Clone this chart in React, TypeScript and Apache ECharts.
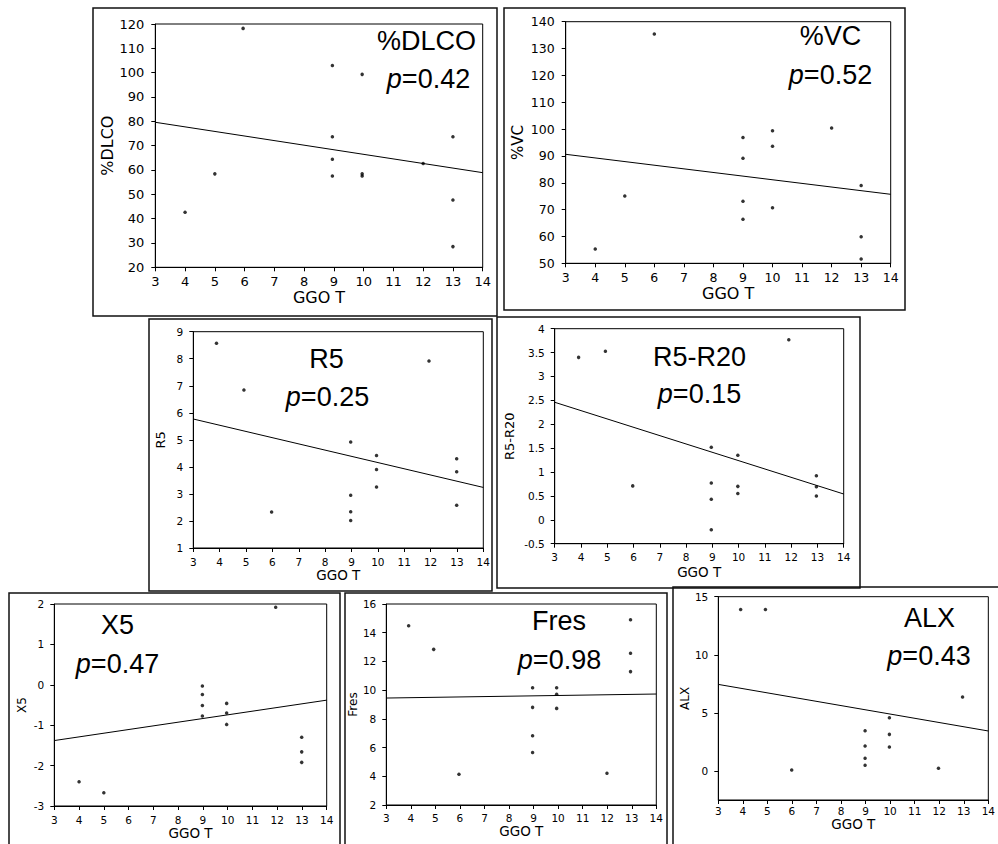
import React, { useEffect, useRef } from "react";
import * as echarts from "echarts";

// ---- data ----
const xName = "GGO T";

const dlcoX = [4, 5, 5.95, 8.95, 8.95, 8.95, 8.95, 9.95, 9.95, 9.95, 12, 13, 13, 13];
const dlcoY = [42.6, 58.4, 118.2, 102.9, 73.7, 64.4, 57.5, 99.3, 58.4, 57.5, 62.7, 73.7, 47.7, 28.5];
const dlcoFit = [79.6, 58.9];

const vcX = [4, 5, 6, 9, 9, 9, 9, 10, 10, 10, 12, 13, 13, 13];
const vcY = [55.3, 75.1, 135.4, 96.9, 89.1, 73.1, 66.4, 99.4, 93.6, 70.7, 100.4, 79.0, 59.9, 51.6];
const vcFit = [90.6, 75.7];

const r5X = [3.88, 4.92, 5.97, 8.97, 8.97, 8.97, 8.97, 9.95, 9.95, 9.95, 11.94, 12.99, 12.99, 12.99];
const r5Y = [8.57, 6.84, 2.33, 4.92, 2.95, 2.34, 2.02, 4.42, 3.9, 3.26, 7.92, 4.3, 3.82, 2.58];
const r5Fit = [5.77, 3.24];

const r520X = [3.91, 4.93, 5.97, 8.96, 8.96, 8.96, 8.96, 9.97, 9.97, 9.97, 11.91, 12.96, 12.96, 12.96];
const r520Y = [3.4, 3.53, 0.71, 1.52, 0.77, 0.43, -0.21, 1.35, 0.7, 0.55, 3.77, 0.92, 0.69, 0.5];
const r520Fit = [2.46, 0.54];

const x5X = [4, 5, 8.98, 8.98, 8.98, 8.98, 9.96, 9.96, 9.96, 11.94, 12.99, 12.99, 12.99];
const x5Y = [-2.4, -2.67, -0.03, -0.24, -0.51, -0.77, -0.46, -0.7, -0.98, 1.92, -1.3, -1.66, -1.92];
const x5Fit = [-1.38, -0.38];

const fresX = [3.91, 4.93, 5.96, 8.96, 8.96, 8.96, 8.96, 9.94, 9.94, 9.94, 11.99, 12.95, 12.95, 12.95];
const fresY = [14.49, 12.84, 4.14, 10.17, 8.8, 6.83, 5.65, 10.17, 9.71, 8.73, 4.21, 14.91, 12.57, 11.29];
const fresFit = [9.45, 9.73];

const alxX = [3.91, 4.92, 5.99, 8.98, 8.98, 8.98, 8.98, 9.97, 9.97, 9.97, 11.97, 12.95];
const alxY = [13.9, 13.9, 0.09, 3.47, 2.15, 1.09, 0.49, 4.58, 3.15, 2.06, 0.23, 6.36];
const alxFit = [7.45, 3.44];

const alxTicks = [0, 5, 10, 15];

const titles = ["%DLCO", "%VC", "R5", "R5-R20", "X5", "Fres", "ALX"];
const yNames = ["%DLCO", "%VC", "R5", "R5-R20", "X5", "Fres", "ALX"];
const pValues = ["0.42", "0.52", "0.25", "0.15", "0.47", "0.98", "0.43"];

const xsAll = [dlcoX, vcX, r5X, r520X, x5X, fresX, alxX];
const ysAll = [dlcoY, vcY, r5Y, r520Y, x5Y, fresY, alxY];
const fitsAll = [dlcoFit, vcFit, r5Fit, r520Fit, x5Fit, fresFit, alxFit];

// y-axis ranges
const yRanges = [
  { min: 20, max: 120, interval: 10 },
  { min: 50, max: 140, interval: 10 },
  { min: 1, max: 9, interval: 1 },
  { min: -0.5, max: 4, interval: 0.5 },
  { min: -3, max: 2, interval: 1 },
  { min: 2, max: 16, interval: 2 },
  { min: -2.5, max: 15, custom: alxTicks },
];

// ---- layout (pixels) ----
const layouts = [
  { grid: [155.3, 24, 327.4, 243.3], box: [93, 8, 404, 308], tick: 13, xnf: 16, ynf: 16, xGap: 19, yGap: 38, xm: 8, ym: 11, title: [426.5, 41], p: [428.5, 78.5] },
  { grid: [565.7, 21.7, 325, 241.6], box: [504, 8, 401, 302], tick: 12.5, xnf: 16, ynf: 15, xGap: 22, yGap: 40, xm: 8, ym: 11, title: [830.5, 36], p: [830.5, 75] },
  { grid: [193.3, 331.7, 290, 216.3], box: [149, 319, 343, 272], tick: 10.5, xnf: 13.5, ynf: 13, xGap: 19, yGap: 26, xm: 8, ym: 10, title: [326.5, 359], p: [327.5, 396.5] },
  { grid: [554.7, 328.7, 289, 215], box: [497, 317, 363, 271], tick: 10.5, xnf: 13.5, ynf: 13, xGap: 21, yGap: 39, xm: 8, ym: 10, title: [699.5, 357], p: [699.5, 393.5] },
  { grid: [54.3, 604, 272.4, 202], box: [9, 593, 331, 260], tick: 10.5, xnf: 13.5, ynf: 12, xGap: 14, yGap: 26, xm: 8, ym: 10, title: [117.5, 625], p: [117.5, 663.5] },
  { grid: [386.3, 604, 270, 201], box: [345, 593, 322, 260], tick: 10.5, xnf: 13.5, ynf: 12, xGap: 16, yGap: 26, xm: 7, ym: 10, title: [559, 621], p: [559.5, 660] },
  { grid: [718.3, 596.7, 271, 203.3], box: [673, 587, 340, 270], tick: 10.5, xnf: 13.5, ynf: 12, xGap: 11, yGap: 24, xm: 5, ym: 10, title: [929.5, 617.5], p: [929, 655.5] },
];

const FONT = "'DejaVu Sans', sans-serif";
const TFONT = "'Liberation Sans', Arial, sans-serif";

export default function App() {
  const ref = useRef<HTMLDivElement>(null);

  useEffect(() => {
    if (!ref.current) return;
    const chart = echarts.init(ref.current, null, { renderer: "svg" });

    const grid = layouts.map((l) => ({
      left: l.grid[0],
      top: l.grid[1],
      width: l.grid[2],
      height: l.grid[3],
      show: true,
      borderColor: "#000",
      borderWidth: 1,
      backgroundColor: "transparent",
    }));

    const xAxis = layouts.map((l, i) => ({
      type: "value",
      gridIndex: i,
      min: 3,
      max: 14,
      interval: 1,
      name: xName,
      nameLocation: "middle",
      nameGap: l.xGap,
      nameTextStyle: { fontFamily: FONT, fontSize: l.xnf, color: "#000" },
      axisLine: { show: true, onZero: false, lineStyle: { color: "#000", width: 1 } },
      axisTick: { show: true, inside: false, length: 4, lineStyle: { color: "#000" } },
      axisLabel: { color: "#000", fontFamily: FONT, fontSize: l.tick, margin: l.xm, showMinLabel: true, showMaxLabel: true },
      splitLine: { show: false },
    }));

    const yAxis = layouts.map((l, i) => {
      const r: any = yRanges[i];
      const ax: any = {
        type: "value",
        gridIndex: i,
        min: r.min,
        max: r.max,
        name: yNames[i],
        nameLocation: "middle",
        nameGap: l.yGap,
        nameTextStyle: { fontFamily: FONT, fontSize: l.ynf, color: "#000" },
        axisLine: { show: true, onZero: false, lineStyle: { color: "#000", width: 1 } },
        axisTick: { show: true, inside: false, length: 4, lineStyle: { color: "#000" } },
        axisLabel: { color: "#000", fontFamily: FONT, fontSize: l.tick, margin: l.ym, showMinLabel: true, showMaxLabel: true },
        splitLine: { show: false },
      };
      if (r.custom) {
        ax.axisLabel.customValues = r.custom;
        ax.axisTick.customValues = r.custom;
      } else {
        ax.interval = r.interval;
      }
      return ax;
    });

    const series: any[] = [];
    layouts.forEach((_, i) => {
      series.push({
        type: "scatter",
        xAxisIndex: i,
        yAxisIndex: i,
        data: xsAll[i].map((x, k) => [x, ysAll[i][k]]),
        symbol: "circle",
        symbolSize: 3.5,
        itemStyle: { color: "#000" },
        silent: true,
      });
      series.push({
        type: "line",
        xAxisIndex: i,
        yAxisIndex: i,
        data: [
          [3, fitsAll[i][0]],
          [14, fitsAll[i][1]],
        ],
        showSymbol: false,
        symbol: "none",
        lineStyle: { color: "#000", width: 1 },
        silent: true,
      });
    });

    const graphic: any[] = [];
    layouts.forEach((l, i) => {
      graphic.push({
        type: "rect",
        silent: true,
        shape: { x: l.box[0], y: l.box[1], width: l.box[2], height: l.box[3] },
        style: { fill: "none", stroke: "#111", lineWidth: 1.5 },
      });
      graphic.push({
        type: "text",
        silent: true,
        x: l.title[0],
        y: l.title[1],
        style: {
          text: titles[i],
          fontFamily: TFONT,
          fontSize: 27,
          fill: "#000",
          align: "center",
          verticalAlign: "middle",
          textAlign: "center",
          textVerticalAlign: "middle",
        },
      });
      graphic.push({
        type: "text",
        silent: true,
        x: l.p[0],
        y: l.p[1],
        style: {
          text: "{i|p}=" + pValues[i],
          fontFamily: TFONT,
          fontSize: 27,
          fill: "#000",
          align: "center",
          verticalAlign: "middle",
          textAlign: "center",
          textVerticalAlign: "middle",
          rich: {
            i: { fontFamily: TFONT, fontSize: 27, fontStyle: "italic", fill: "#000", color: "#000" },
          },
        },
      });
    });

    chart.setOption({
      animation: false,
      backgroundColor: "#fff",
      textStyle: { fontFamily: FONT },
      grid,
      xAxis,
      yAxis,
      series,
      graphic,
    });

    return () => chart.dispose();
  }, []);

  return (
    <div
      ref={ref}
      style={{ position: "absolute", left: 0, top: 0, width: 998, height: 844, background: "#fff" }}
    />
  );
}
